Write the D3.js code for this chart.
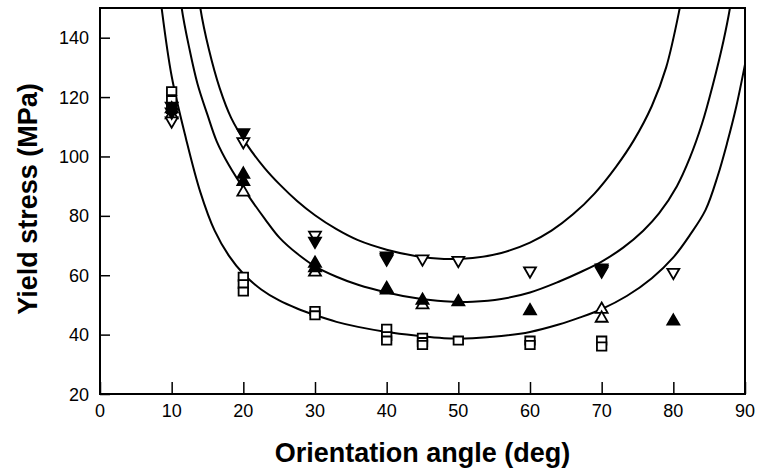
<!DOCTYPE html>
<html>
<head>
<meta charset="utf-8">
<script src="https://d3js.org/d3.v7.min.js"></script>
<style>
  body { margin: 0; background: #fff; }
  text { font-family: "Liberation Sans", Arial, sans-serif; fill: #000; }
</style>
</head>
<body>
<div id="chart"></div>
<script>
// measured points [angle, stress]
var openSquares = [[10, 122], [10, 119], [10, 116], [20, 59.5], [20, 57], [20, 54.5],
  [30, 48], [30, 46.5], [40, 42], [40, 39.5], [40, 38], [45, 39], [45, 37.5], [45, 36.5],
  [50, 38], [60, 38], [60, 36.5], [70, 38], [70, 36]]
var openUp = [[10, 114], [20, 88], [30, 61], [40, 55], [45, 50], [70, 48.5], [70, 45.5]]
var filledUp = [[10, 116], [20, 94], [20, 91.5], [30, 64], [30, 62.5], [40, 55.5],
  [45, 51.5], [50, 51], [60, 48], [80, 44.5]]
var openDown = [[10, 112], [20, 105], [30, 73.5], [40, 66], [45, 65.5], [50, 65],
  [60, 61.5], [70, 62], [80, 61]]
var filledDown = [[10, 117], [10, 115], [20, 108], [30, 71.5], [40, 66.5], [40, 65.5],
  [70, 62.5], [70, 61.5]]

// fitted curves
var fitLow = [[8.0, 163], [8.6, 150], [10, 127], [12, 106], [14, 88], [16, 75], [18, 66.5],
  [20, 60.5], [22.5, 55.2], [25, 51.5], [27.5, 48.8], [30, 46.6], [33, 44.3], [36, 42.6],
  [40, 40.9], [44, 39.7], [48, 38.8], [52, 38.8], [56, 39.5], [60, 40.9], [64, 43.4],
  [67, 45.8], [70, 48.6], [73.5, 53], [77, 59], [80, 66], [82.3, 73.5], [84.5, 82],
  [86.2, 93.5], [87.5, 104.5], [88.8, 117], [90, 131]]
var fitMid = [[10.8, 165], [11.4, 150], [12.5, 136], [13.6, 124.5], [15, 114], [16.3, 105],
  [18, 97], [20.5, 87.5], [23, 79], [25.1, 72.5], [27.5, 67.3], [30, 63], [33, 59.5],
  [36, 56.8], [40, 54.2], [44, 52.3], [48, 51.2], [52, 51.1], [56, 52], [60, 54.2],
  [64, 57.8], [67, 61], [70, 64.6], [73, 69.3], [75.8, 75], [78, 80.8], [80.5, 90],
  [82.3, 99.5], [84, 111], [85.5, 124], [87, 139], [87.9, 150], [88.5, 160]]
var fitHigh = [[13.3, 165], [14, 150], [15.2, 136], [16.7, 123], [18.3, 113], [20.5, 104],
  [23, 96], [25.1, 90.5], [27.5, 85], [30, 80.2], [33, 75.5], [36, 71.8], [40, 68.6],
  [44, 66.5], [48, 65.5], [52, 65.8], [56, 67.5], [60, 71], [63, 75], [66, 80.5],
  [69, 87.5], [72, 96.5], [74.5, 105.5], [77, 117], [79, 130], [80.9, 150], [81.5, 158]]

var xTicks = [0, 10, 20, 30, 40, 50, 60, 70, 80, 90]
var yTicks = [20, 40, 60, 80, 100, 120, 140]

var width = 758, height = 473
var pLeft = 100, pRight = 745, pTop = 8, pBottom = 394

var svg = d3.select('#chart').append('svg')
  .attr('width', width)
  .attr('height', height)

var x = d3.scaleLinear().domain([0, 90]).range([pLeft, pRight])
var y = d3.scaleLinear().domain([20, 150]).range([pBottom, pTop])

svg.append('clipPath').attr('id', 'clip')
  .append('rect')
  .attr('x', pLeft).attr('y', pTop)
  .attr('width', pRight - pLeft).attr('height', pBottom - pTop)

// axes with inward ticks
var xAxis = svg.append('g')
  .attr('transform', `translate(0,${pBottom})`)
  .call(d3.axisTop(x).tickValues(xTicks).tickSize(12).tickFormat(''))
xAxis.select('.domain').remove()
xAxis.selectAll('line').attr('stroke', '#000').attr('stroke-width', 1.5)

var yAxis = svg.append('g')
  .attr('transform', `translate(${pLeft},0)`)
  .call(d3.axisRight(y).tickValues(yTicks).tickSize(10).tickFormat(''))
yAxis.select('.domain').remove()
yAxis.selectAll('line').attr('stroke', '#000').attr('stroke-width', 1.5)

svg.selectAll('.xlab')
  .data(xTicks)
  .enter()
  .append('text')
  .attr('x', d => x(d))
  .attr('y', pBottom + 23)
  .attr('text-anchor', 'middle')
  .style('font-size', '18px')
  .text(d => d)

svg.selectAll('.ylab')
  .data(yTicks)
  .enter()
  .append('text')
  .attr('x', pLeft - 11)
  .attr('y', d => y(d) + 6.5)
  .attr('text-anchor', 'end')
  .style('font-size', '18px')
  .text(d => d)

// frame
svg.append('rect')
  .attr('x', pLeft).attr('y', pTop)
  .attr('width', pRight - pLeft).attr('height', pBottom - pTop)
  .attr('fill', 'none')
  .attr('stroke', '#000')
  .attr('stroke-width', 2)

var line = d3.line()
  .x(d => x(d[0]))
  .y(d => y(d[1]))
  .curve(d3.curveCatmullRom.alpha(0.5))

svg.append('g')
  .attr('clip-path', 'url(#clip)')
  .selectAll('path')
  .data([fitLow, fitMid, fitHigh])
  .enter()
  .append('path')
  .attr('d', line)
  .attr('fill', 'none')
  .attr('stroke', '#000')
  .attr('stroke-width', 2)

// markers
var sq = d3.symbol().type(d3.symbolSquare).size(81)
var tri = d3.symbol().type(d3.symbolTriangle).size(62)

function drawMarks(pts, path, filled, rot, sx, sy) {
  svg.append('g')
    .selectAll('path')
    .data(pts)
    .enter()
    .append('path')
    .attr('d', path)
    .attr('transform', d => `translate(${x(d[0])},${y(d[1])}) rotate(${rot}) scale(${sx},${sy})`)
    .attr('fill', filled ? '#000' : '#fff')
    .attr('stroke', '#000')
    .attr('stroke-width', 1.8)
    .attr('vector-effect', 'non-scaling-stroke')
}

drawMarks(openSquares, sq, false, 0, 1.05, 0.9)
drawMarks(openUp, tri, false, 0, 1, 1)
drawMarks(filledUp, tri, true, 0, 1, 1)
drawMarks(openDown, tri, false, 180, 1, 1)
drawMarks(filledDown, tri, true, 180, 1, 1)

// titles
svg.append('text')
  .attr('x', (pLeft + pRight) / 2)
  .attr('y', 462)
  .attr('text-anchor', 'middle')
  .style('font-size', '27px')
  .style('font-weight', 'bold')
  .text('Orientation angle (deg)')

svg.append('text')
  .attr('transform', `translate(37,199) rotate(-90)`)
  .attr('text-anchor', 'middle')
  .style('font-size', '27px')
  .style('font-weight', 'bold')
  .text('Yield stress (MPa)')
</script>
</body>
</html>
